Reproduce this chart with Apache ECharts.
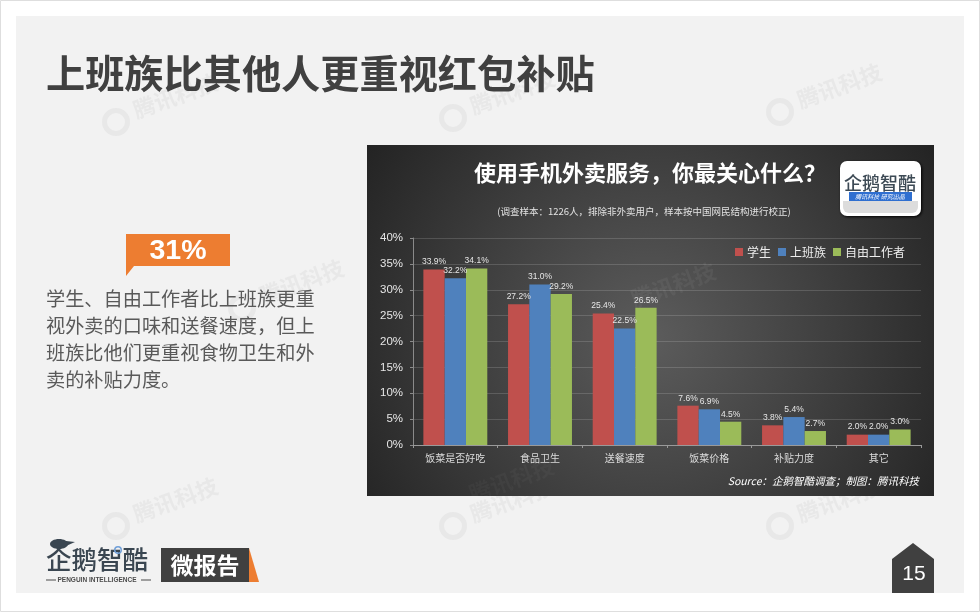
<!DOCTYPE html>
<html><head><meta charset="utf-8">
<style>html,body{margin:0;padding:0;background:#fff}#c{width:980px;height:612px}</style>
<script src="https://cdn.jsdelivr.net/npm/echarts@6/dist/echarts.min.js"></script>
</head><body><div id="c"></div>
<script>
const categories = ['饭菜是否好吃','食品卫生','送餐速度','饭菜价格','补贴力度','其它'];
const students = [33.9,27.2,25.4,7.6,3.8,2.0];
const workers = [32.2,31.0,22.5,6.9,5.4,2.0];
const freelancers = [34.1,29.2,26.5,4.5,2.7,3.0];
const bodyLines = ['学生、自由工作者比上班族更重','视外卖的口味和送餐速度，但上','班族比他们更重视食物卫生和外','卖的补贴力度。'];
const FONT = '"Noto Sans CJK SC","Noto Sans",sans-serif';
const LATIN = '"Liberation Sans",Arial,sans-serif';
const chart = echarts.init(document.getElementById('c'), null, {renderer:'canvas'});
const txt = (x,y,text,size,fill,o={}) => ({type:'text',z:o.z??5,x,y,rotation:o.rot||0,silent:true,style:{
  text,fill,font:`${o.style||'normal'} ${o.weight||'normal'} ${size}px ${o.font||FONT}`,
  align:o.align||'left',verticalAlign:'middle',shadowBlur:o.blur||0,shadowColor:o.shadow||'transparent',shadowOffsetX:o.off||0,shadowOffsetY:o.off||0}});
const rect = (x,y,w,h,fill,o={}) => ({type:'rect',z:o.z??2,silent:true,shape:{x,y,width:w,height:h,r:o.r||0},style:{fill,stroke:o.stroke||null,lineWidth:o.lw||0,shadowBlur:o.blur||0,shadowColor:o.shadow||'transparent',shadowOffsetX:o.off||0,shadowOffsetY:o.off||0}});
const poly = (points,fill,z=3) => ({type:'polygon',z,silent:true,shape:{points},style:{fill}});
const ROT = 20*Math.PI/180;
const wmPositions = [[128,112],[465,108],[792,102],[128,516],[465,516],[792,516],[254,298]];
const watermarks = [];
wmPositions.forEach(p=>{
  watermarks.push({type:'ring',z:0.5,silent:true,shape:{cx:p[0]-12,cy:p[1]+10,r:14,r0:9},style:{fill:'#e8e8e8'}});
  watermarks.push(txt(p[0]+6,p[1]-1,'腾讯科技',22,'#e8e8e8',{rot:ROT,z:0.5,weight:'bold'}));
});
const darkWm = [
  txt(632,300,'腾讯科技',22,'rgba(255,255,255,0.05)',{rot:ROT,z:2,weight:'bold'}),
  txt(470,495,'腾讯科技',22,'rgba(255,255,255,0.03)',{rot:ROT,z:2,weight:'bold'})
];
chart.setOption({
  animation:false,
  backgroundColor:'#ffffff',
  graphic:{elements:[
    rect(0.5,0.5,979,611,'#ffffff',{stroke:'#dedede',lw:1,z:0}),
    rect(16,16,948,577,'#f2f2f2',{z:0.1}),
    ...watermarks,
    txt(46,73,'上班族比其他人更重视红包补贴',39.2,'#404040',{weight:'bold'}),
    poly([[126,234],[230,234],[230,266],[134,266],[126,276]],'#ed7d31'),
    txt(178,251,'31%',28.5,'#ffffff',{font:LATIN,align:'center',weight:'bold'}),
    ...bodyLines.map((l,i)=>txt(46,299+i*27,l,19.2,'#595959')),
    // dark panel
    {type:'rect',z:1,silent:true,shape:{x:367,y:145,width:567,height:351},style:{fill:{type:'radial',x:0.5,y:0.55,r:1.05,colorStops:[{offset:0,color:'#5c5c5c'},{offset:0.5,color:'#3e3e3e'},{offset:1,color:'#1f1f1f'}]}}},
    ...darkWm,
    txt(650,173,'使用手机外卖服务，你最关心什么？',22,'#ffffff',{align:'center',weight:'bold',blur:3,shadow:'#000',off:1}),
    txt(644,211,'(调查样本：1226人，排除非外卖用户，样本按中国网民结构进行校正)',9.5,'#e2e2e2',{align:'center'}),
    // small logo
    rect(840,161,81,55,'#ffffff',{r:7,z:4,blur:3,shadow:'#000',off:1}),
    rect(843,201,75,12,'#dcdcdc',{z:4,r:[0,0,6,6]}),
    txt(880,183,'企鹅智酷',18,'#3d4a55',{align:'center',z:5,weight:'500'}),
    rect(849,192,63,9,'#2f6fd0',{z:5}),
    txt(880,197,'腾讯科技 研究出品',6,'#ffffff',{align:'center',z:6,style:'italic'}),
    txt(919,481,'Source：企鹅智酷调查；制图：腾讯科技',10.5,'#ffffff',{align:'right',style:'italic'}),
    // footer
    {type:'ellipse',z:3,silent:true,shape:{cx:59,cy:544,rx:9,ry:5},style:{fill:'#3a4651'}},
    poly([[66,541],[75,542],[66,546]],'#3a4651'),
    txt(46,559,'企鹅智酷',25.5,'#3a4651',{weight:'500'}),
    {type:'ring',z:6,silent:true,shape:{cx:118,cy:550,r:4,r0:2.5},style:{fill:'#6f9fd8'}},
    txt(97,580,'PENGUIN INTELLIGENCE',6.5,'#4a4a4a',{align:'center',font:LATIN,weight:'bold'}),
    rect(46,579.5,10,1,'#4a4a4a'), rect(141,579.5,10,1,'#4a4a4a'),
    rect(161,548,88,34,'#404040'),
    poly([[249,548],[259,582],[249,582]],'#ed7d31'),
    txt(205,565,'微报告',23,'#ffffff',{align:'center',weight:'bold'}),
    poly([[913,543],[934,559],[934,593],[892,593],[892,559]],'#404040'),
    txt(914,574,'15',21,'#ffffff',{align:'center',font:LATIN})
  ]},
  legend:{left:730,top:241,itemWidth:8,itemHeight:8,itemGap:7,icon:'rect',
    textStyle:{color:'#eeeeee',fontSize:12,fontFamily:FONT,padding:[0,0,0,-1]},
    data:['学生','上班族','自由工作者']},
  grid:{left:413,right:59,top:238,bottom:167,containLabel:false},
  xAxis:{type:'category',data:categories,z:3,
    axisLine:{lineStyle:{color:'#9a9a9a',width:1}},
    axisTick:{show:true,length:3,lineStyle:{color:'#9a9a9a'}},
    axisLabel:{color:'#dcdcdc',fontSize:10,fontFamily:FONT,margin:8,interval:0}},
  yAxis:{type:'value',min:0,max:40,interval:5,z:3,
    axisLine:{show:true,lineStyle:{color:'#8a8a8a'}},
    axisTick:{show:true,length:3,lineStyle:{color:'#8a8a8a'}},
    axisLabel:{color:'#e6e6e6',fontSize:11.5,fontFamily:LATIN,margin:10,formatter:'{value}%'},
    splitLine:{lineStyle:{color:'rgba(255,255,255,0.15)',width:1}}},
  series:[['学生',students,'#c0504d'],['上班族',workers,'#4f81bd'],['自由工作者',freelancers,'#9bbb59']].map(s=>({
    name:s[0],type:'bar',data:s[1],barGap:'0%',barCategoryGap:'24.5%',z:4,
    itemStyle:{color:s[2]},
    label:{show:true,position:'top',distance:3,color:'#e6e6e6',fontSize:8.5,fontFamily:LATIN,formatter:p=>p.value.toFixed(1)+'%'}
  }))
});
</script></body></html>
